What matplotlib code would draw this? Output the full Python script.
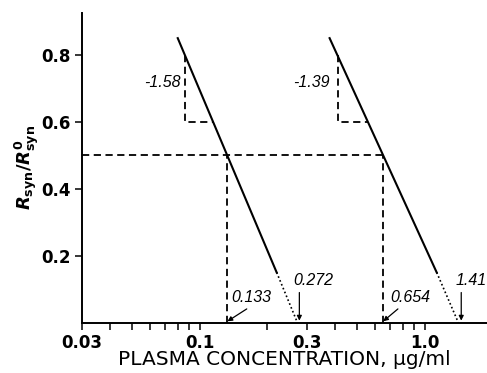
import matplotlib
matplotlib.use("Agg")
import matplotlib.pyplot as plt
from matplotlib.ticker import FixedLocator, NullFormatter

plt.rcParams['font.family'] = ['DejaVu Sans']
plt.rcParams['mathtext.fontset'] = 'custom'
plt.rcParams['mathtext.rm'] = 'DejaVu Sans:bold'
plt.rcParams['mathtext.it'] = 'DejaVu Sans:bold:italic'

# line 1 (solid part then dotted extrapolation)
line1_solid_x = [0.080, 0.22]
line1_solid_y = [0.85, 0.15]
line1_dot_x = [0.22, 0.272]
line1_dot_y = [0.15, 0.0]

# line 2
line2_solid_x = [0.378, 1.13]
line2_solid_y = [0.85, 0.15]
line2_dot_x = [1.13, 1.41]
line2_dot_y = [0.15, 0.0]

# slope triangles
tri1_x = [0.0866, 0.0866, 0.115]
tri1_y = [0.8, 0.6, 0.6]
tri2_x = [0.413, 0.413, 0.561]
tri2_y = [0.8, 0.6, 0.6]
slopes = ["-1.58", "-1.39"]

# half-effect concentrations
half_y = 0.5
c50 = [0.133, 0.654]
c0 = [0.272, 1.41]

major_x = [0.03, 0.1, 0.3, 1.0]
major_lbl = ["0.03", "0.1", "0.3", "1.0"]
minor_x = [0.04, 0.05, 0.06, 0.07, 0.08, 0.09, 0.2, 0.4, 0.5, 0.6, 0.7, 0.8, 0.9]
yticks = [0.2, 0.4, 0.6, 0.8]

fig = plt.figure(figsize=(4.87, 3.73), dpi=100)
ax = fig.add_axes([0.168, 0.135, 0.832, 0.83])
ax.set_xscale('log')
ax.set_xlim(0.03, 1.89)
ax.set_ylim(0, 0.925)

lw = 1.5
ax.plot(line1_solid_x, line1_solid_y, color='black', lw=lw)
ax.plot(line1_dot_x, line1_dot_y, color='black', lw=1.2, ls=(0, (1, 1.5)))
ax.plot(line2_solid_x, line2_solid_y, color='black', lw=lw)
ax.plot(line2_dot_x, line2_dot_y, color='black', lw=1.2, ls=(0, (1, 1.5)))

dash = (0, (4, 2.5))
ax.plot(tri1_x, tri1_y, color='black', lw=1.3, ls=dash)
ax.plot(tri2_x, tri2_y, color='black', lw=1.3, ls=dash)
ax.plot([0.03, c50[1]], [half_y, half_y], color='black', lw=1.3, ls=dash)
for c in c50:
    ax.plot([c, c], [0, half_y], color='black', lw=1.3, ls=dash)

note = dict(style='italic', fontsize=11.5, family='Liberation Sans')
ax.text(0.0826, 0.718, slopes[0], ha='right', va='center', **note)
ax.text(0.378, 0.718, slopes[1], ha='right', va='center', **note)

arrow = dict(arrowstyle='-|>', color='black', lw=0.9, mutation_scale=7, shrinkA=0, shrinkB=0)
ax.text(0.139, 0.074, "0.133", ha='left', va='center', **note)
ax.annotate("", xy=(c50[0], 0.004), xytext=(0.162, 0.041), arrowprops=arrow)
ax.text(0.704, 0.074, "0.654", ha='left', va='center', **note)
ax.annotate("", xy=(c50[1], 0.004), xytext=(0.76, 0.041), arrowprops=arrow)
ax.text(0.261, 0.127, "0.272", ha='left', va='center', **note)
ax.annotate("", xy=(c0[0] * 1.02, 0.006), xytext=(c0[0] * 1.02, 0.09), arrowprops=arrow)
ax.text(1.37, 0.127, "1.41", ha='left', va='center', **note)
ax.annotate("", xy=(c0[1] * 1.03, 0.006), xytext=(c0[1] * 1.03, 0.09), arrowprops=arrow)

ax.xaxis.set_major_locator(FixedLocator(major_x))
ax.set_xticklabels(major_lbl)
ax.xaxis.set_minor_locator(FixedLocator(minor_x))
ax.xaxis.set_minor_formatter(NullFormatter())
ax.set_yticks(yticks)
ax.set_yticklabels(["0.2", "0.4", "0.6", "0.8"])

for s in ['top', 'right']:
    ax.spines[s].set_visible(False)
for s in ['left', 'bottom']:
    ax.spines[s].set_linewidth(1.4)

ax.tick_params(axis='x', which='both', direction='out', length=5, width=1.1, pad=3)
ax.tick_params(axis='y', direction='out', length=5, width=1.1, pad=3)
for t in ax.get_xticklabels() + ax.get_yticklabels():
    t.set_fontweight('bold')
    t.set_fontsize(12)

ax.set_xlabel("PLASMA CONCENTRATION, \u03bcg/ml", fontsize=14.5, labelpad=-1)
ax.set_ylabel("$R_{\\rm syn}/R^{0}_{\\rm syn}$", fontsize=13, labelpad=0)

fig.savefig("out.png", dpi=100)
